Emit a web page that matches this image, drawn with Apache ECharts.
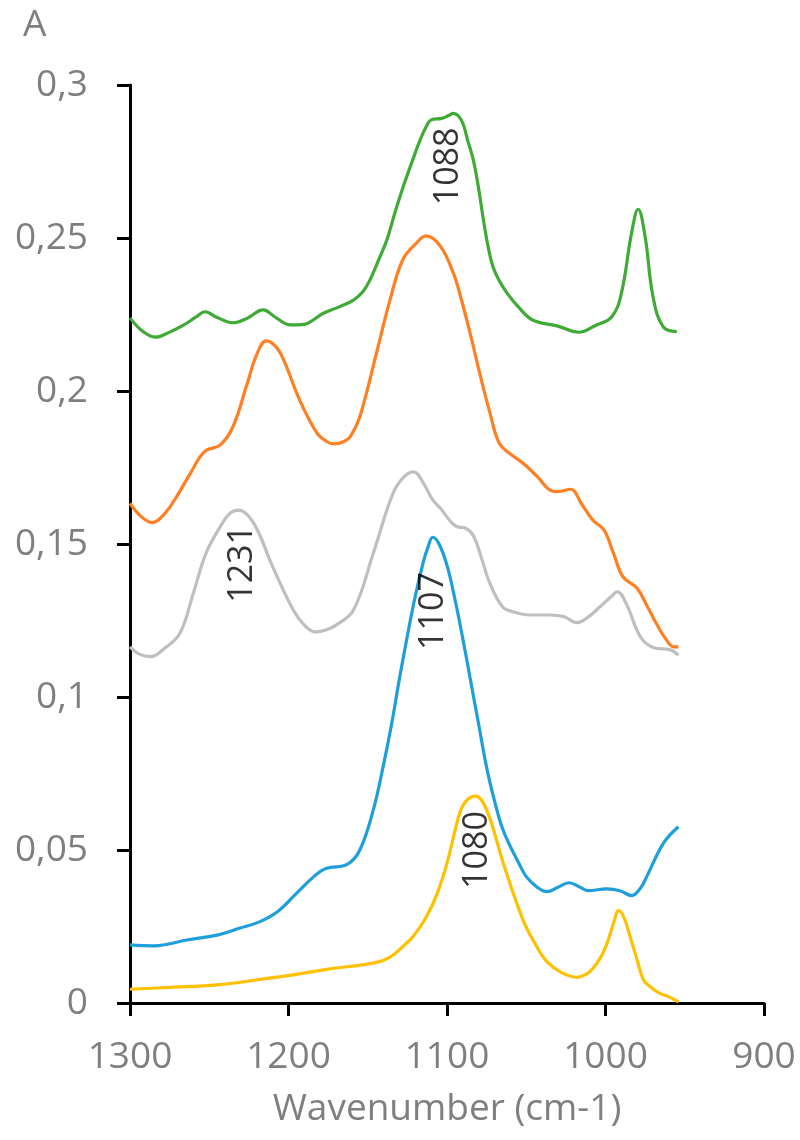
<!DOCTYPE html>
<html>
<head>
<meta charset="utf-8">
<script src="https://cdn.jsdelivr.net/npm/echarts@6/dist/echarts.min.js"></script>
<style>html,body{margin:0;padding:0;background:#fff}#c{width:800px;height:1140px}</style>
</head>
<body>
<div id="c"></div>
<script>
// x ticks / y ticks
var xTicks = [1300, 1200, 1100, 1000, 900];
var yTicks = [0, 0.05, 0.1, 0.15, 0.2, 0.25, 0.3];

// [wavenumber, absorbance]
var greenData = [[1300,0.2239],[1292,0.2195],[1284,0.2176],[1276,0.2190],[1266,0.2216],[1258,0.2243],[1252.7,0.2259],[1245,0.2240],[1235,0.2223],[1226,0.2238],[1216,0.2265],[1208,0.2240],[1199,0.2216],[1190,0.2218],[1186,0.2227],[1178,0.2254],[1168,0.2275],[1159,0.2297],[1153,0.2325],[1148.6,0.2363],[1143,0.2430],[1138,0.2493],[1133,0.2580],[1127.6,0.2668],[1122,0.2750],[1117,0.2820],[1113,0.2865],[1110,0.2886],[1103.4,0.2891],[1099,0.2900],[1096,0.2907],[1093,0.2900],[1090,0.2875],[1087,0.2820],[1083.4,0.2755],[1080,0.2660],[1077,0.2559],[1074,0.2470],[1071,0.2406],[1067,0.2360],[1062,0.2319],[1055,0.2275],[1046,0.2232],[1030,0.2212],[1017,0.2192],[1006,0.2215],[996,0.2243],[990,0.2319],[983.6,0.2515],[979.4,0.2594],[975,0.2504],[970,0.2308],[963.6,0.2210],[955,0.2194]];

var orangeData = [[1300,0.1633],[1293,0.1590],[1286,0.1570],[1278,0.1600],[1270.6,0.1655],[1262,0.1730],[1253,0.1802],[1243,0.1824],[1235,0.1884],[1226,0.2025],[1220,0.2120],[1214,0.2164],[1208,0.2145],[1203,0.2101],[1193,0.1971],[1182,0.1862],[1176,0.1835],[1171,0.1827],[1165,0.1835],[1161,0.1851],[1155,0.1916],[1144,0.2134],[1136,0.2297],[1128,0.2428],[1120,0.2480],[1113,0.2507],[1104,0.2472],[1096,0.2385],[1091,0.2300],[1085,0.2180],[1079,0.2050],[1073,0.1930],[1067,0.1829],[1060,0.1794],[1052,0.1764],[1043,0.1720],[1035,0.1676],[1030,0.1671],[1022,0.1679],[1015,0.1630],[1008,0.1578],[1001,0.1546],[995,0.1470],[989,0.1393],[980,0.1355],[974,0.1300],[968,0.1241],[962,0.1190],[957,0.1164],[954,0.1164]];

var grayData = [[1300,0.1164],[1294,0.1140],[1287,0.1132],[1278,0.1160],[1268.5,0.1208],[1260,0.1340],[1252,0.1470],[1243,0.1557],[1237,0.1600],[1231.5,0.1611],[1222,0.1568],[1210,0.1426],[1197,0.1284],[1190,0.1235],[1183,0.1213],[1176,0.1220],[1170,0.1235],[1159,0.1284],[1146.5,0.1470],[1134,0.1666],[1127,0.1720],[1121,0.1736],[1115,0.1700],[1109,0.1644],[1104,0.1616],[1098,0.1575],[1094,0.1557],[1088,0.1551],[1083,0.1524],[1078,0.1450],[1073,0.1372],[1065,0.1295],[1058,0.1278],[1048,0.1268],[1035,0.1268],[1026,0.1262],[1018,0.1243],[1010,0.1265],[1003.5,0.1295],[997,0.1325],[992.6,0.1344],[987,0.1306],[978,0.1197],[970,0.1162],[959,0.1154],[954,0.1137]];

var blueData = [[1300,0.0190],[1285,0.0187],[1264,0.0206],[1245,0.0222],[1231,0.0244],[1218,0.0266],[1207,0.0298],[1195,0.0358],[1184,0.0413],[1176,0.0440],[1163,0.0453],[1155,0.0500],[1146.5,0.0631],[1140,0.0780],[1135,0.0910],[1130,0.1060],[1125,0.1200],[1120,0.1330],[1115,0.1440],[1112,0.1490],[1109,0.1522],[1105,0.1500],[1100,0.1430],[1095,0.1320],[1090,0.1190],[1085,0.1050],[1080,0.0910],[1075,0.0770],[1070,0.0660],[1065,0.0570],[1060,0.0511],[1055,0.0460],[1050,0.0413],[1043,0.0378],[1037,0.0364],[1030,0.0378],[1023,0.0393],[1016,0.0378],[1011,0.0367],[999,0.0373],[991,0.0367],[983.5,0.0351],[978,0.0375],[974,0.0413],[963.5,0.0522],[954,0.0576]];

var yellowData = [[1300,0.0045],[1275,0.0051],[1245,0.0059],[1218,0.0077],[1197,0.0092],[1176,0.0110],[1145,0.0132],[1136,0.0150],[1128,0.0184],[1121,0.0220],[1113,0.0282],[1106,0.0360],[1100,0.0457],[1092,0.0620],[1088,0.0660],[1082,0.0676],[1075,0.0631],[1064.5,0.0457],[1052,0.0271],[1044,0.0190],[1037,0.0135],[1028,0.0100],[1018,0.0084],[1012,0.0095],[1008,0.0113],[1003,0.0150],[999,0.0195],[995,0.0260],[991.6,0.0302],[988,0.0275],[984.5,0.0217],[980,0.0140],[976,0.0075],[971,0.0050],[966,0.0032],[960,0.0020],[954,0.0004]];

// peak annotations
var annotLabels = ['1231', '1107', '1080', '1088'];
var annotX = [1229, 1108.5, 1080.8, 1099];
var annotY = [0.1435, 0.1281, 0.050, 0.2734];

var annotData = annotLabels.map(function (t, i) { return [annotX[i], annotY[i], t]; });

var FONT = '"Open Sans", "Noto Sans", sans-serif';
var GRAYTXT = '#7f7f7f';

function lineSeries(name, data, color) {
  return {
    name: name, type: 'line', data: data, smooth: 0.4, showSymbol: false,
    symbol: 'none', lineStyle: { color: color, width: 3.2 }, itemStyle: { color: color },
    z: 3, silent: true
  };
}

var chart = echarts.init(document.getElementById('c'), null, { renderer: 'canvas' });
chart.setOption({
  backgroundColor: '#fff',
  animation: false,
  title: {
    text: 'A', left: 18, top: 2,
    textStyle: { fontFamily: FONT, fontSize: 37, fontWeight: 'normal', color: GRAYTXT }
  },
  grid: { left: 130, right: 36, top: 85, bottom: 137 },
  xAxis: {
    type: 'value', inverse: true, min: 900, max: 1300, interval: 100,
    name: 'Wavenumber (cm-1)', nameLocation: 'middle', nameGap: 88,
    nameTextStyle: { fontFamily: FONT, fontSize: 37, color: GRAYTXT },
    axisLine: { onZero: false, lineStyle: { color: '#000', width: 3 } },
    axisTick: { length: 13, lineStyle: { color: '#000', width: 3 } },
    axisLabel: { margin: 36, fontFamily: FONT, fontSize: 37, color: GRAYTXT,
      formatter: function (v) { return xTicks.indexOf(v) >= 0 ? String(v) : ''; } },
    splitLine: { show: false }
  },
  yAxis: {
    type: 'value', min: 0, max: 0.3, interval: 0.05,
    axisLine: { show: true, onZero: false, lineStyle: { color: '#000', width: 3 } },
    axisTick: { show: true, length: 13, lineStyle: { color: '#000', width: 3 } },
    axisLabel: { margin: 42, fontFamily: FONT, fontSize: 37, color: GRAYTXT,
      formatter: function (v) {
        var r = Math.round(v * 100) / 100;
        for (var i = 0; i < yTicks.length; i++) { if (Math.abs(yTicks[i] - r) < 1e-9) return String(r).replace('.', ','); }
        return '';
      } },
    splitLine: { show: false }
  },
  series: [
    lineSeries('green', greenData, '#3FAA36'),
    lineSeries('orange', orangeData, '#FF7F22'),
    lineSeries('gray', grayData, '#BFBFBF'),
    lineSeries('blue', blueData, '#1E9FDC'),
    lineSeries('yellow', yellowData, '#FFC000'),
    {
      name: 'labels', type: 'scatter', data: annotData, symbolSize: 0, z: 5, silent: true,
      label: {
        show: true, position: 'inside', rotate: 90,
        formatter: function (p) { return p.value[2]; },
        fontFamily: FONT, fontSize: 34, color: '#000'
      }
    }
  ]
});
</script>
</body>
</html>
